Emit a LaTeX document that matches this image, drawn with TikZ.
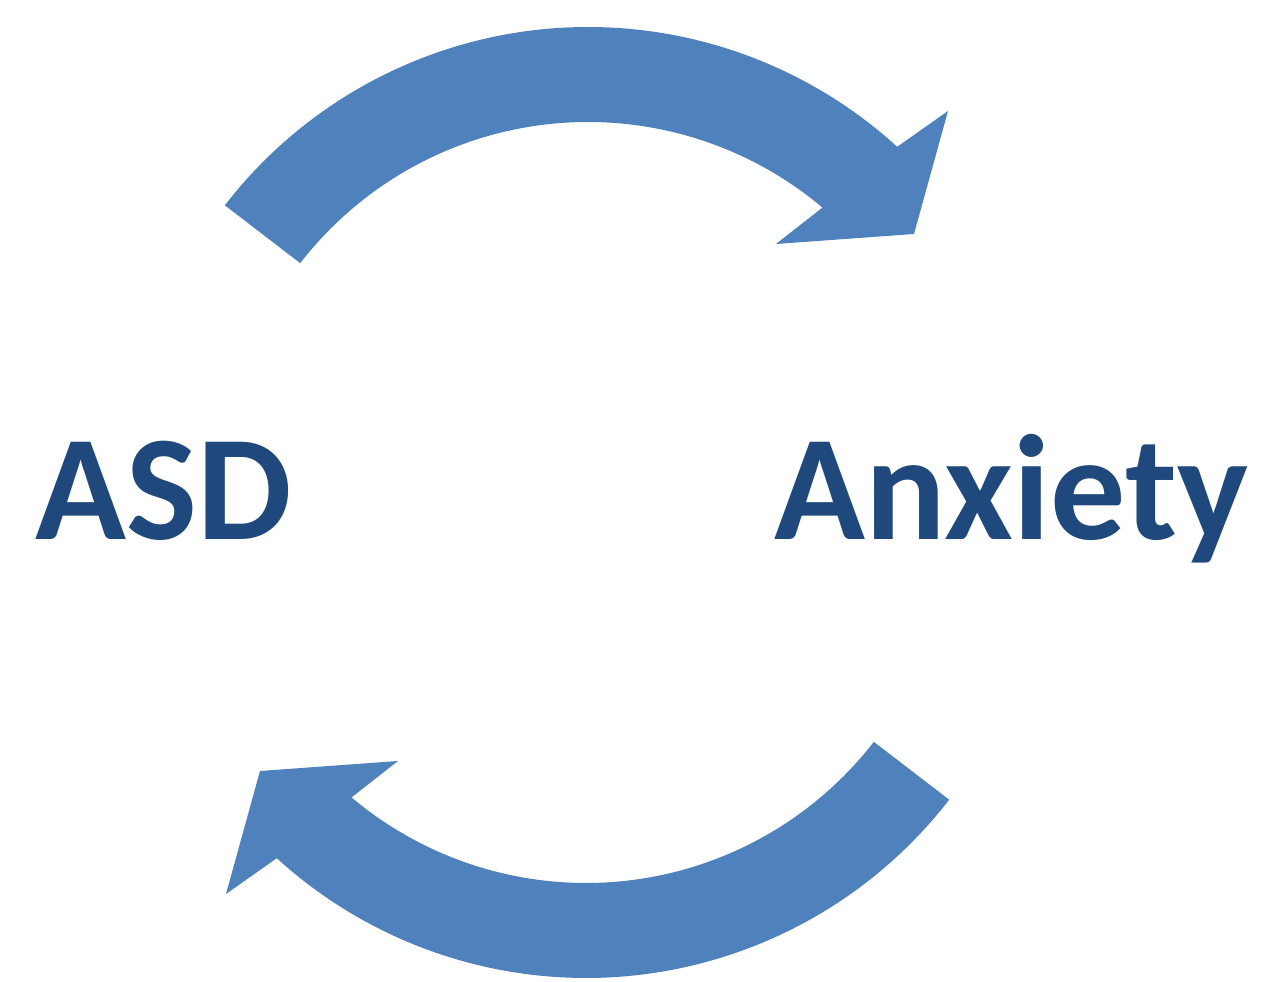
\documentclass[tikz,border=0pt]{standalone}
\usepackage{fontspec}
\setmainfont{Carlito}
\definecolor{cyclefill}{HTML}{4F81BD}
\definecolor{labelblue}{HTML}{1F497D}
\begin{document}
\begin{tikzpicture}[x=1pt,y=1pt,
  cyclearrow/.style={fill=cyclefill, draw=none},
  termlabel/.style={inner sep=0pt, anchor=base, text=labelblue,
    font=\fontsize{150}{150}\selectfont\bfseries}]
\useasboundingbox (0,0) rectangle (1264,982);
% curved arrow from ASD over the top towards Anxiety
\def\cyclearc{%
  \fill[cyclearrow] ([shift={(588,496)}]142.3:459)
    arc[start angle=142.3, end angle=47.65, radius=459]
    -- (948,871) -- (914,748) -- (776,738)
    -- ([shift={(588,496)}]49.9:364)
    arc[start angle=49.9, end angle=142.25, radius=364] -- cycle;}
\cyclearc
% the same arrow turned half a revolution: back along the bottom
\begin{scope}[rotate around={180:(587,479.5)}]
  \cyclearc
\end{scope}
\node[termlabel] (asd) at (163.5,442) {ASD};
\node[termlabel] (anxiety) at (1011.5,442) {Anxiety};
\end{tikzpicture}
\end{document}
